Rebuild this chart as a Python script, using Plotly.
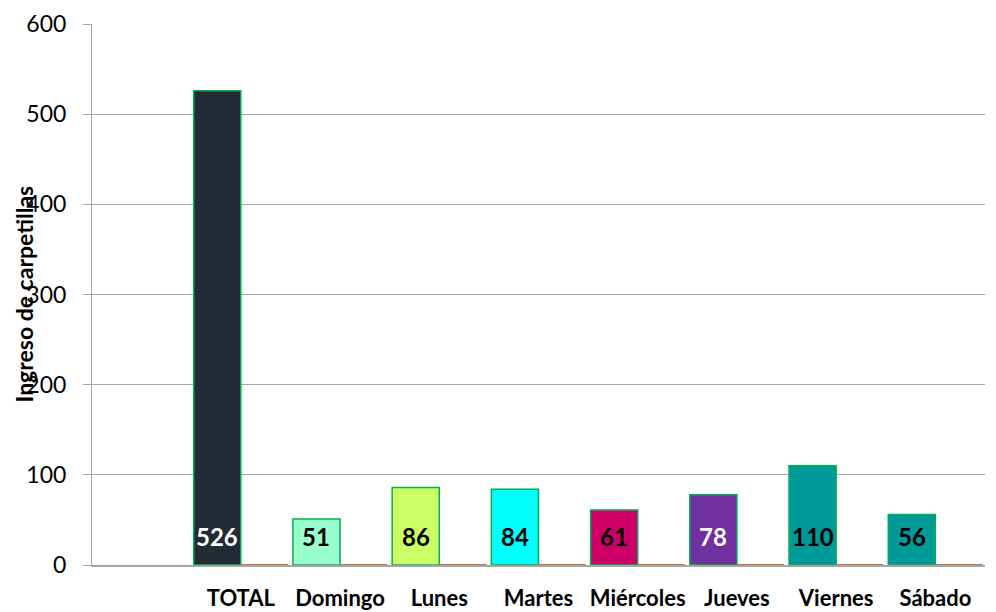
import plotly.graph_objects as go

categories = ["TOTAL", "Domingo", "Lunes", "Martes", "Miércoles", "Jueves", "Viernes", "Sábado"]
ingresos = [526, 51, 86, 84, 61, 78, 110, 56]
serie2 = [0.6, 0.6, 0.6, 0.6, 0.6, 0.6, 0.6, 0.6]
bar_colors = ["#222a35", "#99ffcc", "#ccff66", "#00ffff", "#cc0066", "#7030a0", "#009999", "#009999"]
label_colors = ["white", "black", "black", "black", "black", "white", "black", "black"]
y_ticks = [0, 100, 200, 300, 400, 500, 600]

FONT = "Lato"
BW = 0.475

fig = go.Figure()
fig.add_trace(go.Bar(
    x=categories, y=ingresos, width=BW, offset=-BW,
    marker=dict(color=bar_colors, line=dict(color="#00b050", width=1.5)),
    hoverinfo="x+y", showlegend=False,
))
fig.add_trace(go.Bar(
    x=categories, y=serie2, width=BW, offset=0,
    marker=dict(color="#c8703a", line=dict(width=0)),
    showlegend=False,
))

for i, (v, c) in enumerate(zip(ingresos, label_colors)):
    fig.add_annotation(
        x=i - BW / 2, y=32, xref="x", yref="y", text=f"<b>{v}</b>",
        showarrow=False, font=dict(family=FONT, size=24, color=c),
        xanchor="center", yanchor="middle",
    )

fig.add_annotation(
    x=(23 - 92) / 893, y=0.5, xref="paper", yref="paper", text="<b>Ingreso de carpetillas</b>",
    textangle=-90, showarrow=False, font=dict(family=FONT, size=23, color="black"),
    xanchor="center", yanchor="middle",
)

fig.update_layout(
    width=988, height=604,
    margin=dict(l=84, r=11, t=16, b=47, autoexpand=False),
    paper_bgcolor="white", plot_bgcolor="white",
    barmode="overlay",
    xaxis=dict(
        type="category", categoryorder="array", categoryarray=categories,
        range=[-1.5, 7.5], automargin=False,
        showgrid=False, showline=True, linecolor="#a6a6a6", linewidth=1.5,
        ticks="outside", ticklen=13, tickcolor="rgba(0,0,0,0)",
        tickfont=dict(family=FONT, size=22, color="black"),
        tickprefix="<b>", ticksuffix="</b>",
    ),
    yaxis=dict(
        range=[0, 600], tickvals=y_ticks, automargin=False,
        showgrid=True, gridcolor="#a6a6a6", gridwidth=1,
        showline=True, linecolor="#a6a6a6", linewidth=1,
        ticks="outside", ticklen=8, tickcolor="#a6a6a6",
        ticklabelstandoff=12,
        tickfont=dict(family=FONT, size=23, color="black"),
        zeroline=False,
    ),
)

fig.write_html("out.html")
